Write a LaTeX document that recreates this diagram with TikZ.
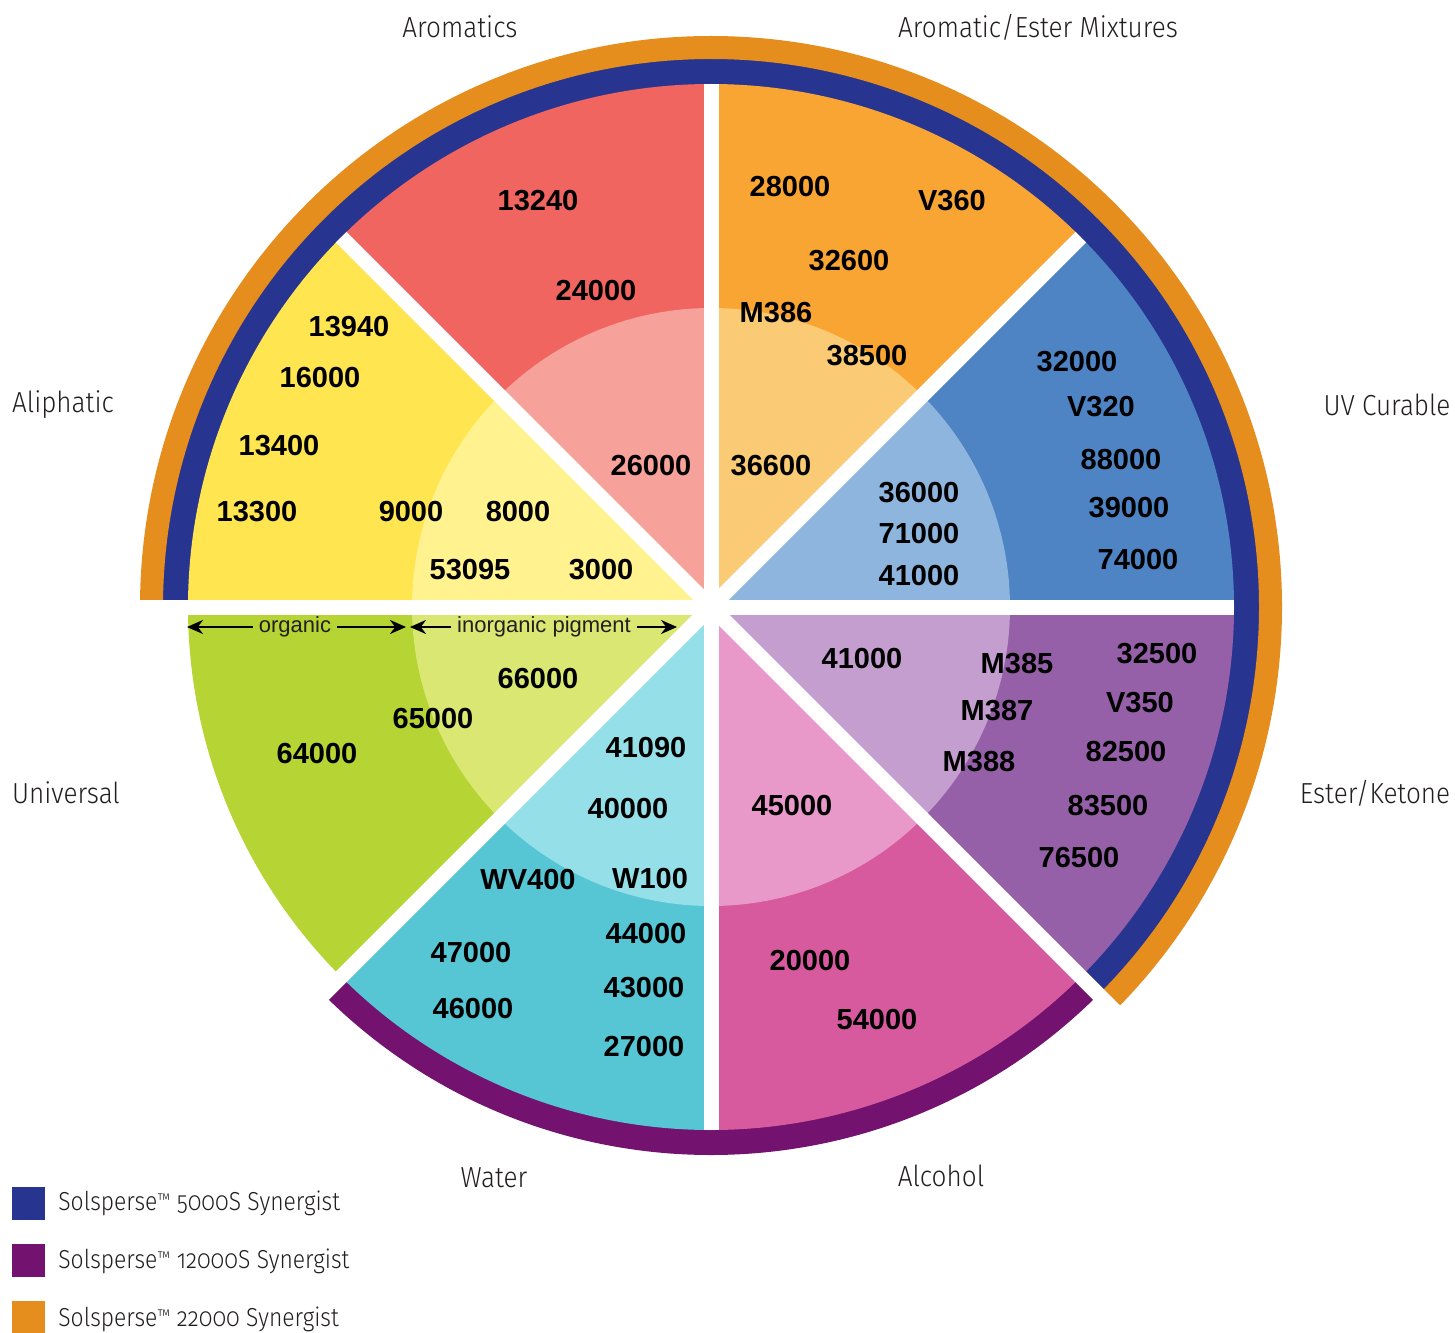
\documentclass[tikz,border=0pt]{standalone}
\usepackage{fontspec}
\setmainfont{Liberation Sans}
\newfontfamily\labfont{Fira Sans Light}[FakeStretch=0.9]
\newfontfamily\legfont{Fira Sans Light}[Numbers=OldStyle, FakeStretch=0.88]
\usetikzlibrary{arrows.meta}
\definecolor{aroO}{HTML}{F06560}\definecolor{aroI}{HTML}{F6A19A}
\definecolor{aeO}{HTML}{F9A533}\definecolor{aeI}{HTML}{FACB74}
\definecolor{uvO}{HTML}{4E83C4}\definecolor{uvI}{HTML}{8EB5DE}
\definecolor{ekO}{HTML}{9660A9}\definecolor{ekI}{HTML}{C49ECF}
\definecolor{alcO}{HTML}{D75A9F}\definecolor{alcI}{HTML}{E898C9}
\definecolor{watO}{HTML}{56C5D4}\definecolor{watI}{HTML}{95E0E8}
\definecolor{uniO}{HTML}{B6D433}\definecolor{uniI}{HTML}{DAE873}
\definecolor{aliO}{HTML}{FFE651}\definecolor{aliI}{HTML}{FFF28F}
\definecolor{ringB}{HTML}{283590}
\definecolor{ringP}{HTML}{73136F}
\definecolor{ringO}{HTML}{E58D1D}
\definecolor{txt}{HTML}{231F20}
\newcommand{\tmark}{\raisebox{2.2pt}{\fontsize{8.5}{9}\selectfont ™}}
\begin{document}
\begin{tikzpicture}[x=0.5pt,y=-0.5pt,
  num/.style={font=\bfseries\fontsize{14.5}{16}\selectfont, text=black, inner sep=0pt},
  cat/.style={font=\labfont\fontsize{14.5}{17}\selectfont, text=txt, inner sep=0pt},
  leg/.style={font=\legfont\fontsize{13}{15}\selectfont, text=txt, inner sep=0pt, anchor=west},
  sub/.style={font=\fontsize{11}{13}\selectfont, text=txt, inner sep=3pt},
  dimarrow/.style={-{Stealth[length=8pt,width=7pt]}, line width=1.2pt, black}]
\fill[white] (0,0) rectangle (1455,1332);
\useasboundingbox (0,0) rectangle (1455,1332);

\begin{scope}[shift={(711,607)}, yscale=-1]
  % rings
  \fill[ringB] (-45:515) arc[start angle=-45, end angle=180, radius=515] -- (180:549) arc[start angle=180, end angle=-45, radius=549] -- cycle;
  \fill[ringO] (-45:548) arc[start angle=-45, end angle=180, radius=548] -- (180:571) arc[start angle=180, end angle=-45, radius=571] -- cycle;
  \fill[ringP] (-135:515) arc[start angle=-135, end angle=-45, radius=515] -- (-45:548) arc[start angle=-45, end angle=-135, radius=548] -- cycle;
  % sectors
  \foreach \a/\co/\ci in {90/aroO/aroI, 45/aeO/aeI, 0/uvO/uvI, -45/ekO/ekI, -90/alcO/alcI, -135/watO/watI, 180/uniO/uniI, 135/aliO/aliI} {
    \fill[\co] (0,0) -- (\a:523) arc[start angle=\a, delta angle=45, radius=523] -- cycle;
    \fill[\ci] (0,0) -- (\a:299) arc[start angle=\a, delta angle=45, radius=299] -- cycle;
  }
  % white gaps
  \foreach \a/\r in {0/523, 45/523, 90/523, 135/523, 180/610, -135/610, -90/523, -45/610}
    \draw[white, line width=7.5pt] (0,0) -- (\a:\r);
\end{scope}

% category labels
\node[cat] (lAro) at (460,27) {Aromatics};
\node[cat] (lAE) at (1038,27) {Aromatic/Ester Mixtures};
\node[cat] (lAli) at (63,405) {Aliphatic};
\node[cat] (lUV) at (1387,405) {UV Curable};
\node[cat] (lUni) at (66,793) {Universal};
\node[cat] (lEK) at (1375,793) {Ester/Ketone};
\node[cat] (lWat) at (494,1178) {Water};
\node[cat] (lAlc) at (941,1176) {Alcohol};

% Aromatics
\node[num] (a1) at (538,201) {13240};
\node[num] (a2) at (596,291) {24000};
\node[num] (a3) at (651,466) {26000};
% Aromatic/Ester
\node[num] (b1) at (790,187) {28000};
\node[num] (b2) at (952,201) {V360};
\node[num] (b3) at (849,261) {32600};
\node[num] (b4) at (776,313) {M386};
\node[num] (b5) at (867,356) {38500};
\node[num] (b6) at (771,466) {36600};
% UV Curable
\node[num] (c1) at (1077,362) {32000};
\node[num] (c2) at (1101,407) {V320};
\node[num] (c3) at (1121,460) {88000};
\node[num] (c4) at (1129,508) {39000};
\node[num] (c5) at (1138,560) {74000};
\node[num] (c6) at (919,493) {36000};
\node[num] (c7) at (919,534) {71000};
\node[num] (c8) at (919,576) {41000};
% Ester/Ketone
\node[num] (d1) at (862,659) {41000};
\node[num] (d2) at (1017,664) {M385};
\node[num] (d3) at (1157,654) {32500};
\node[num] (d4) at (997,711) {M387};
\node[num] (d5) at (1140,703) {V350};
\node[num] (d6) at (979,762) {M388};
\node[num] (d7) at (1126,752) {82500};
\node[num] (d8) at (1108,806) {83500};
\node[num] (d9) at (1079,858) {76500};
% Alcohol
\node[num] (e1) at (792,806) {45000};
\node[num] (e2) at (810,961) {20000};
\node[num] (e3) at (877,1020) {54000};
% Water
\node[num] (f1) at (646,748) {41090};
\node[num] (f2) at (628,809) {40000};
\node[num] (f3) at (528,880) {WV400};
\node[num] (f4) at (650,879) {W100};
\node[num] (f5) at (646,934) {44000};
\node[num] (f6) at (471,953) {47000};
\node[num] (f7) at (644,988) {43000};
\node[num] (f8) at (473,1009) {46000};
\node[num] (f9) at (644,1047) {27000};
% Universal
\node[num] (g1) at (538,679) {66000};
\node[num] (g2) at (433,719) {65000};
\node[num] (g3) at (317,754) {64000};
% Aliphatic
\node[num] (h1) at (349,327) {13940};
\node[num] (h2) at (320,378) {16000};
\node[num] (h3) at (279,446) {13400};
\node[num] (h4) at (257,512) {13300};
\node[num] (h5) at (411,512) {9000};
\node[num] (h6) at (518,512) {8000};
\node[num] (h7) at (470,570) {53095};
\node[num] (h8) at (601,570) {3000};

% organic / inorganic pigment
\node[sub] (org) at (295,627) {organic};
\node[sub] (inorg) at (544,627) {inorganic pigment};
\coordinate (orgL) at (187,627);
\coordinate (orgR) at (406,627);
\coordinate (inL) at (410,627);
\coordinate (inR) at (677,627);
\draw[dimarrow] (org.west) -- (orgL);
\draw[dimarrow] (org.east) -- (orgR);
\draw[dimarrow] (inorg.west) -- (inL);
\draw[dimarrow] (inorg.east) -- (inR);

% legend
\fill[ringB] (12,1187) rectangle (45,1220);
\fill[ringP] (12,1244) rectangle (45,1277);
\fill[ringO] (12,1301) rectangle (45,1334);
\node[leg] (k1) at (58,1203) {Solsperse\tmark\ 5000S Synergist};
\node[leg] (k2) at (58,1261) {Solsperse\tmark\ 12000S Synergist};
\node[leg] (k3) at (58,1319) {Solsperse\tmark\ 22000 Synergist};
\end{tikzpicture}
\end{document}
